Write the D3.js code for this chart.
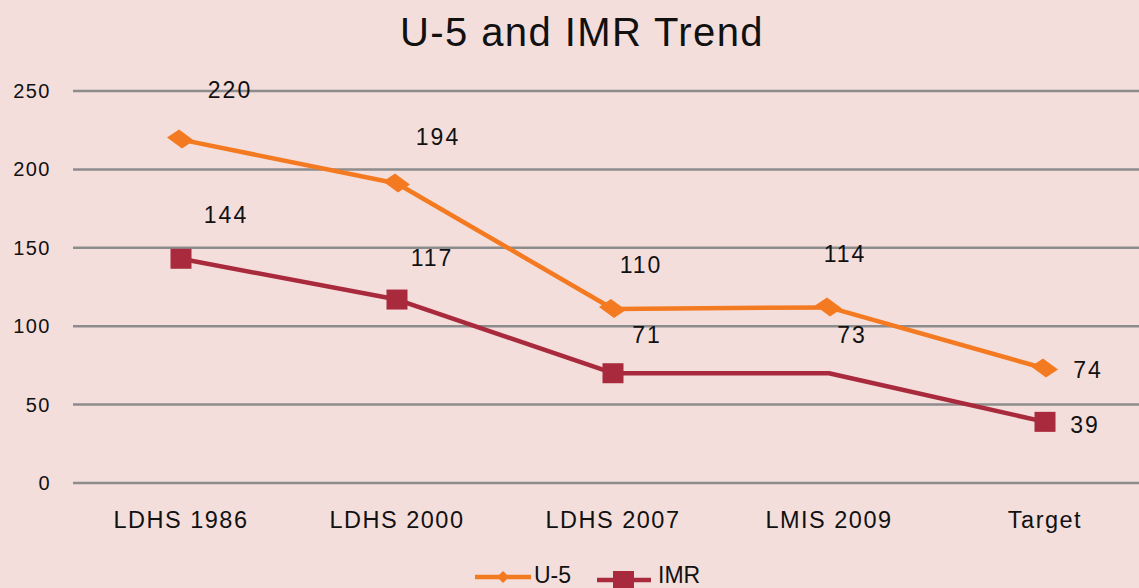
<!DOCTYPE html>
<html>
<head>
<meta charset="utf-8">
<script src="https://cdn.jsdelivr.net/npm/d3@7"></script>
<style>
  body { margin: 0; background: #f4dedc; }
  svg { display: block; font-family: "Liberation Sans", Arial, sans-serif; }
</style>
</head>
<body>
<svg id="chart" width="1139" height="588"></svg>
<script>
var categories = ['LDHS 1986', 'LDHS 2000', 'LDHS 2007', 'LMIS 2009', 'Target'];
var u5Values = [219, 191, 111, 112, 73];
var u5Labels = ['220', '194', '110', '114', '74'];
var imrValues = [143, 117, 70, 70, 39];
var imrLabels = ['144', '117', '71', '73', '39'];
var imrMarker = [true, true, true, false, true];
var yTicks = [0, 50, 100, 150, 200, 250];

// hand-placed label nudges, like the original
var u5Nudge = [[49, -50], [41, -47], [28, -44], [16, -53], [43, 1]];
var imrNudge = [[45, -44], [35, -42], [34, -38], [23, -38], [40, 3]];

var svg = d3.select('#chart'),
    width = +svg.attr('width'),
    height = +svg.attr('height');

var x = d3.scaleBand().domain(categories).range([73, 1153]);
var y = d3.scaleLinear().domain([0, 250]).range([483, 91]);
var cx = function(d, i) { return x(categories[i]) + x.bandwidth() / 2; };

svg.append('text')
  .attr('x', 582).attr('y', 46)
  .attr('text-anchor', 'middle')
  .attr('font-size', '40px')
  .attr('letter-spacing', '1.4px')
  .attr('fill', '#111')
  .text('U-5 and IMR Trend');

// grid + y labels
var grid = svg.append('g');
grid.selectAll('line').data(yTicks).enter().append('line')
  .attr('x1', 73).attr('x2', width)
  .attr('y1', function(d) { return y(d); })
  .attr('y2', function(d) { return y(d); })
  .attr('stroke', '#8c8c8c')
  .attr('stroke-width', 2.5);
grid.selectAll('text').data(yTicks).enter().append('text')
  .attr('x', 51)
  .attr('y', function(d) { return y(d) + 7; })
  .attr('text-anchor', 'end')
  .attr('font-size', '20px')
  .attr('letter-spacing', '1.5px')
  .attr('fill', '#111')
  .text(function(d) { return d; });

svg.append('g').selectAll('text').data(categories).enter().append('text')
  .attr('x', function(d) { return x(d) + x.bandwidth() / 2; })
  .attr('y', 528)
  .attr('text-anchor', 'middle')
  .attr('font-size', '23.5px')
  .attr('letter-spacing', '1.5px')
  .attr('fill', '#111')
  .text(function(d) { return d; });

var line = d3.line()
  .x(cx)
  .y(function(d) { return y(d); });

var orange = '#f47a21', red = '#a82a3c';

svg.append('path').datum(u5Values)
  .attr('d', line).attr('fill', 'none')
  .attr('stroke', orange).attr('stroke-width', 4.5).attr('stroke-linejoin', 'round');
svg.append('path').datum(imrValues)
  .attr('d', line).attr('fill', 'none')
  .attr('stroke', red).attr('stroke-width', 4.5).attr('stroke-linejoin', 'round');

function diamond(g, px, py) {
  g.append('path')
    .attr('d', 'M' + (px - 14) + ',' + (py - 2) + 'L' + (px - 2) + ',' + (py - 10) +
      'L' + (px + 13) + ',' + (py + 1) + 'L' + (px + 1) + ',' + (py + 9) + 'Z')
    .attr('fill', orange);
}

var marks = svg.append('g');
u5Values.forEach(function(v, i) { diamond(marks, cx(v, i), y(v)); });

imrValues.forEach(function(v, i) {
  if (!imrMarker[i]) return;
  marks.append('rect')
    .attr('x', cx(v, i) - 10.5)
    .attr('y', y(v) - 10)
    .attr('width', 21).attr('height', 20)
    .attr('fill', red);
});

function labels(vals, labs, nudge) {
  svg.append('g').selectAll('text').data(vals).enter().append('text')
    .attr('x', function(d, i) { return cx(d, i) + nudge[i][0]; })
    .attr('y', function(d, i) { return y(d) + nudge[i][1] + 8; })
    .attr('text-anchor', 'middle')
    .attr('font-size', '23px')
    .attr('letter-spacing', '2px')
    .attr('fill', '#111')
    .text(function(d, i) { return labs[i]; });
}
labels(u5Values, u5Labels, u5Nudge);
labels(imrValues, imrLabels, imrNudge);

// legend
var lg = svg.append('g');
lg.append('line').attr('x1', 475).attr('x2', 531).attr('y1', 577).attr('y2', 577)
  .attr('stroke', orange).attr('stroke-width', 4.5);
lg.append('path').attr('d', 'M497,577L503,571L509,577L503,583Z').attr('fill', orange);
lg.append('text').attr('x', 534).attr('y', 583).attr('font-size', '23px').attr('fill', '#111').text('U-5');
lg.append('line').attr('x1', 597).attr('x2', 651).attr('y1', 580).attr('y2', 580)
  .attr('stroke', red).attr('stroke-width', 4.5);
lg.append('rect').attr('x', 613).attr('y', 571).attr('width', 21).attr('height', 20).attr('fill', red);
lg.append('text').attr('x', 658).attr('y', 583).attr('font-size', '23px').attr('fill', '#111').text('IMR');
</script>
</body>
</html>
